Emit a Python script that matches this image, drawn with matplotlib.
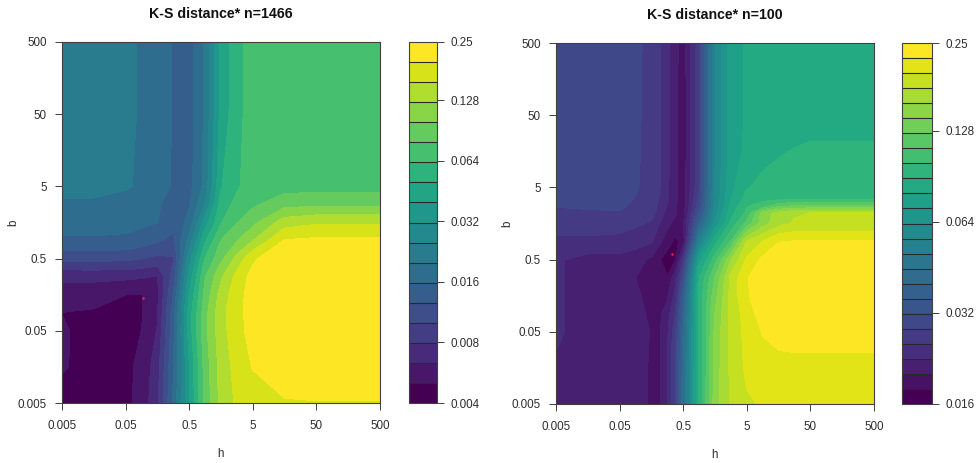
import matplotlib
matplotlib.use('Agg')
import matplotlib.pyplot as plt
import numpy as np

plt.rcParams['font.family'] = ['Liberation Sans', 'DejaVu Sans']

tick_vals = [0.005, 0.05, 0.5, 5, 50, 500]
tick_labels = ['0.005', '0.05', '0.5', '5', '50', '500']

# grid nodes of h and b
left_h = [0.005, 0.0158, 0.05, 0.089, 0.158, 0.281, 0.5, 0.889, 1.58, 2.81, 5, 15.8, 50, 500]
left_b = [0.005, 0.0158, 0.05, 0.089, 0.158, 0.281, 0.5, 0.889, 1.58, 2.81, 5, 50, 500]
right_h = [0.005, 0.0158, 0.05, 0.089, 0.158, 0.211, 0.281, 0.375, 0.5, 0.889, 1.58, 2.81, 5, 8.89, 15.8, 28.1, 50, 500]
right_b = [0.005, 0.0158, 0.05, 0.089, 0.158, 0.281, 0.5, 0.889, 1.58, 2.2, 2.72, 3.36, 5, 15.8, 50, 500]

# distance read off the picture as a position on the colour bar (in bands),
# one list per h node, going from the lowest b to the highest b
left_bands = [
    [0.3, 1.13, 1.13, 0.98, 1.55, 2.2, 4.25, 5.85, 6.35, 6.85, 7.3, 7.55, 7.6],
    [0.4, 0.5, 0.55, 0.85, 1.5, 2.2, 4.3, 5.85, 6.4, 6.85, 7.25, 7.5, 7.55],
    [0.7, 0.7, 0.7, 0.6, 1.0, 2.2, 4.2, 5.8, 6.3, 6.6, 7.1, 7.2, 7.2],
    [1.35, 1.3, 1.0, 0.9, 0.95, 2.1, 4.0, 5.5, 6.2, 6.5, 6.85, 6.9, 6.9],
    [2.75, 2.5, 2.05, 1.85, 1.75, 1.9, 3.7, 5.1, 6.0, 6.1, 6.35, 6.4, 6.4],
    [6.1, 5.9, 5.6, 5.5, 5.0, 4.4, 3.9, 4.75, 5.3, 5.6, 5.9, 5.95, 5.95],
    [9.9, 9.9, 10.4, 10.4, 10.0, 9.3, 8.5, 7.3, 6.3, 5.9, 5.6, 5.5, 5.5],
    [13.3, 13.4, 13.7, 13.6, 13.3, 12.9, 12.0, 10.8, 9.5, 8.0, 7.3, 7.15, 7.1],
    [15.3, 15.4, 15.6, 15.7, 15.4, 14.8, 13.7, 13.0, 11.9, 11.4, 10.9, 10.3, 10.2],
    [16.15, 16.35, 16.6, 16.6, 16.6, 16.3, 15.3, 13.9, 12.95, 12.3, 11.85, 11.65, 11.6],
    [16.4, 17.05, 17.4, 17.5, 17.45, 17.35, 16.8, 14.95, 13.7, 12.8, 12.5, 12.5, 12.5],
    [16.9, 17.6, 17.95, 17.95, 17.95, 17.95, 17.95, 17.05, 15.5, 13.65, 12.55, 12.6, 12.6],
    [16.95, 17.7, 17.95, 17.95, 17.95, 17.95, 17.95, 17.2, 15.85, 13.75, 12.6, 12.6, 12.6],
    [16.95, 17.7, 17.95, 17.95, 17.95, 17.95, 17.95, 17.2, 15.85, 13.75, 12.6, 12.6, 12.6],
]
right_bands = [
    [2.6, 2.85, 3.15, 3.15, 3.15, 3.15, 3.15, 3.8, 4.4, 4.75, 5.02, 5.1, 5.2, 5.3, 5.4, 5.5],
    [2.6, 2.6, 2.6, 2.6, 2.6, 2.6, 2.6, 3.8, 4.4, 4.85, 5.1, 5.1, 5.15, 5.25, 5.3, 5.4],
    [2.5, 2.5, 2.5, 2.45, 2.35, 2.3, 2.6, 3.75, 4.3, 4.9, 5.15, 5.2, 5.2, 5.25, 5.25, 5.3],
    [2.3, 2.3, 2.3, 2.25, 2.15, 2.0, 2.35, 3.45, 4.15, 4.45, 4.75, 4.95, 5.1, 5.15, 5.15, 5.2],
    [1.9, 1.9, 1.95, 1.85, 1.7, 1.75, 1.8, 3.1, 3.85, 4.3, 4.45, 4.5, 4.6, 4.65, 4.7, 4.7],
    [1.85, 1.85, 1.85, 1.75, 1.5, 1.1, 1.05, 2.2, 2.95, 3.65, 3.75, 3.9, 4.05, 4.1, 4.05, 4.05],
    [2.85, 2.85, 2.75, 2.5, 1.8, 1.05, 0.5, 1.4, 2.3, 2.6, 2.9, 3.05, 3.15, 3.2, 3.25, 3.25],
    [4.8, 4.8, 4.7, 4.0, 3.3, 2.6, 0.9, 0.75, 1.6, 2.1, 2.1, 2.2, 2.25, 2.3, 2.3, 2.3],
    [8.5, 8.4, 8.0, 7.5, 6.9, 5.6, 3.9, 1.3, 1.75, 1.5, 1.4, 1.4, 1.4, 1.3, 1.3, 1.35],
    [15.0, 15.0, 15.1, 15.2, 15.2, 14.9, 13.5, 10.5, 7.5, 6.2, 5.6, 5.3, 4.8, 4.8, 4.8, 4.8],
    [19.5, 19.4, 19.2, 19.0, 18.6, 18.0, 16.5, 14.6, 12.2, 11.5, 11.2, 11.1, 11.0, 10.9, 10.9, 10.9],
    [21.1, 21.2, 21.3, 21.3, 21.3, 21.25, 19.9, 17.0, 15.2, 14.6, 14.3, 14.0, 13.7, 13.5, 13.5, 13.5],
    [21.85, 22.2, 22.3, 22.45, 22.85, 22.9, 22.15, 21.0, 17.3, 16.2, 15.9, 15.4, 14.9, 14.2, 14.1, 14.1],
    [22.1, 22.6, 23.05, 23.5, 23.7, 23.65, 23.2, 22.0, 19.5, 19.4, 16.5, 15.8, 15.3, 14.6, 14.2, 14.2],
    [22.3, 22.7, 23.3, 23.7, 23.9, 23.9, 23.7, 22.95, 20.6, 20.4, 17.8, 15.9, 15.4, 14.9, 14.4, 14.3],
    [22.4, 22.7, 23.4, 23.7, 23.9, 23.95, 23.85, 23.05, 21.1, 20.9, 18.2, 15.95, 15.45, 15.05, 14.5, 14.4],
    [22.4, 22.7, 23.4, 23.7, 23.9, 23.95, 23.9, 23.05, 21.1, 21.0, 18.3, 15.9, 15.5, 15.15, 14.6, 14.4],
    [22.4, 22.7, 23.4, 23.7, 23.9, 23.95, 23.9, 23.05, 21.1, 21.0, 18.3, 15.9, 15.5, 15.15, 14.6, 14.4],
]

left_cbar_ticks = [0.004, 0.008, 0.016, 0.032, 0.064, 0.128, 0.25]
right_cbar_ticks = [0.016, 0.032, 0.064, 0.128, 0.25]
left_cbar_labels = ['0.004', '0.008', '0.016', '0.032', '0.064', '0.128', '0.25']
right_cbar_labels = ['0.016', '0.032', '0.064', '0.128', '0.25']

# red point, best fit
left_best = (0.0946, 0.142)
right_best = (0.328, 0.601)

W = 976.0
H = 463.0
text_col = '#2e2e2e'
line_col = '#404040'


def px_axes(fig, x0, x1, y0, y1):
    return fig.add_axes([x0 / W, 1 - y1 / H, (x1 - x0) / W, (y1 - y0) / H])


def panel(fig, box, cbox, n, h, b, bands, best, title, ticks, labels):
    ax = px_axes(fig, *box)
    cax = px_axes(fig, *cbox)
    cmap = plt.get_cmap('viridis', n)
    colors = [cmap(i) for i in range(n)]
    z = np.array(bands).T
    cs = ax.contourf(np.log10(h), np.log10(b), z, levels=np.arange(n + 1), colors=colors)
    cs.set_edgecolor('face')
    cs.set_linewidth(0.4)
    ax.plot(np.log10(best[0]), np.log10(best[1]), 'o', color='#f0203a', ms=1.8, mew=0)

    ax.set_xticks(np.log10(tick_vals))
    ax.set_xticklabels(tick_labels)
    ax.set_yticks(np.log10(tick_vals))
    ax.set_yticklabels(tick_labels)
    ax.set_xlim(np.log10(0.005), np.log10(500))
    ax.set_ylim(np.log10(0.005), np.log10(500))
    ax.tick_params(axis='both', length=5, width=0.7, color=line_col, labelsize=8.4, labelcolor=text_col)
    ax.tick_params(axis='x', pad=7)
    ax.tick_params(axis='y', pad=6)
    for s in ax.spines.values():
        s.set_linewidth(0.8)
        s.set_color(line_col)

    cx = (box[0] + box[1]) / 2.0
    fig.text(cx / W, 1 - (box[2] - 28.3) / H, title, ha='center', va='center', fontsize=10.2,
             fontweight='bold', color='#111111')
    fig.text(cx / W, 1 - (box[3] + 51) / H, 'h', ha='center', va='center', fontsize=8.4, color=text_col)
    fig.text((box[0] - 49) / W, 1 - (box[2] + box[3]) / 2.0 / H, 'b', rotation=90, ha='center', va='center',
             fontsize=8.4, color=text_col)

    cb = fig.colorbar(cs, cax=cax, drawedges=True)
    cb.dividers.set_color('#2a2a2a')
    cb.dividers.set_linewidth(0.8)
    cb.outline.set_edgecolor(line_col)
    cb.outline.set_linewidth(0.8)
    pos = [np.log(t / ticks[0]) / np.log(ticks[-1] / ticks[0]) * n for t in ticks]
    cb.set_ticks(pos)
    cb.set_ticklabels(labels)
    cb.ax.tick_params(length=5, width=0.7, color=line_col, labelsize=8.4, labelcolor=text_col, pad=5)
    cb.ax.minorticks_off()
    return ax


fig = plt.figure(figsize=(9.76, 4.63), dpi=100)

panel(fig, (62, 380, 42, 403), (408.5, 437, 42, 403), 18, left_h, left_b, left_bands, left_best,
      'K-S distance* n=1466', left_cbar_ticks, left_cbar_labels)
panel(fig, (556, 874, 43, 404), (902, 932, 43, 404), 24, right_h, right_b, right_bands, right_best,
      'K-S distance* n=100', right_cbar_ticks, right_cbar_labels)

fig.savefig('out.png', dpi=100)
